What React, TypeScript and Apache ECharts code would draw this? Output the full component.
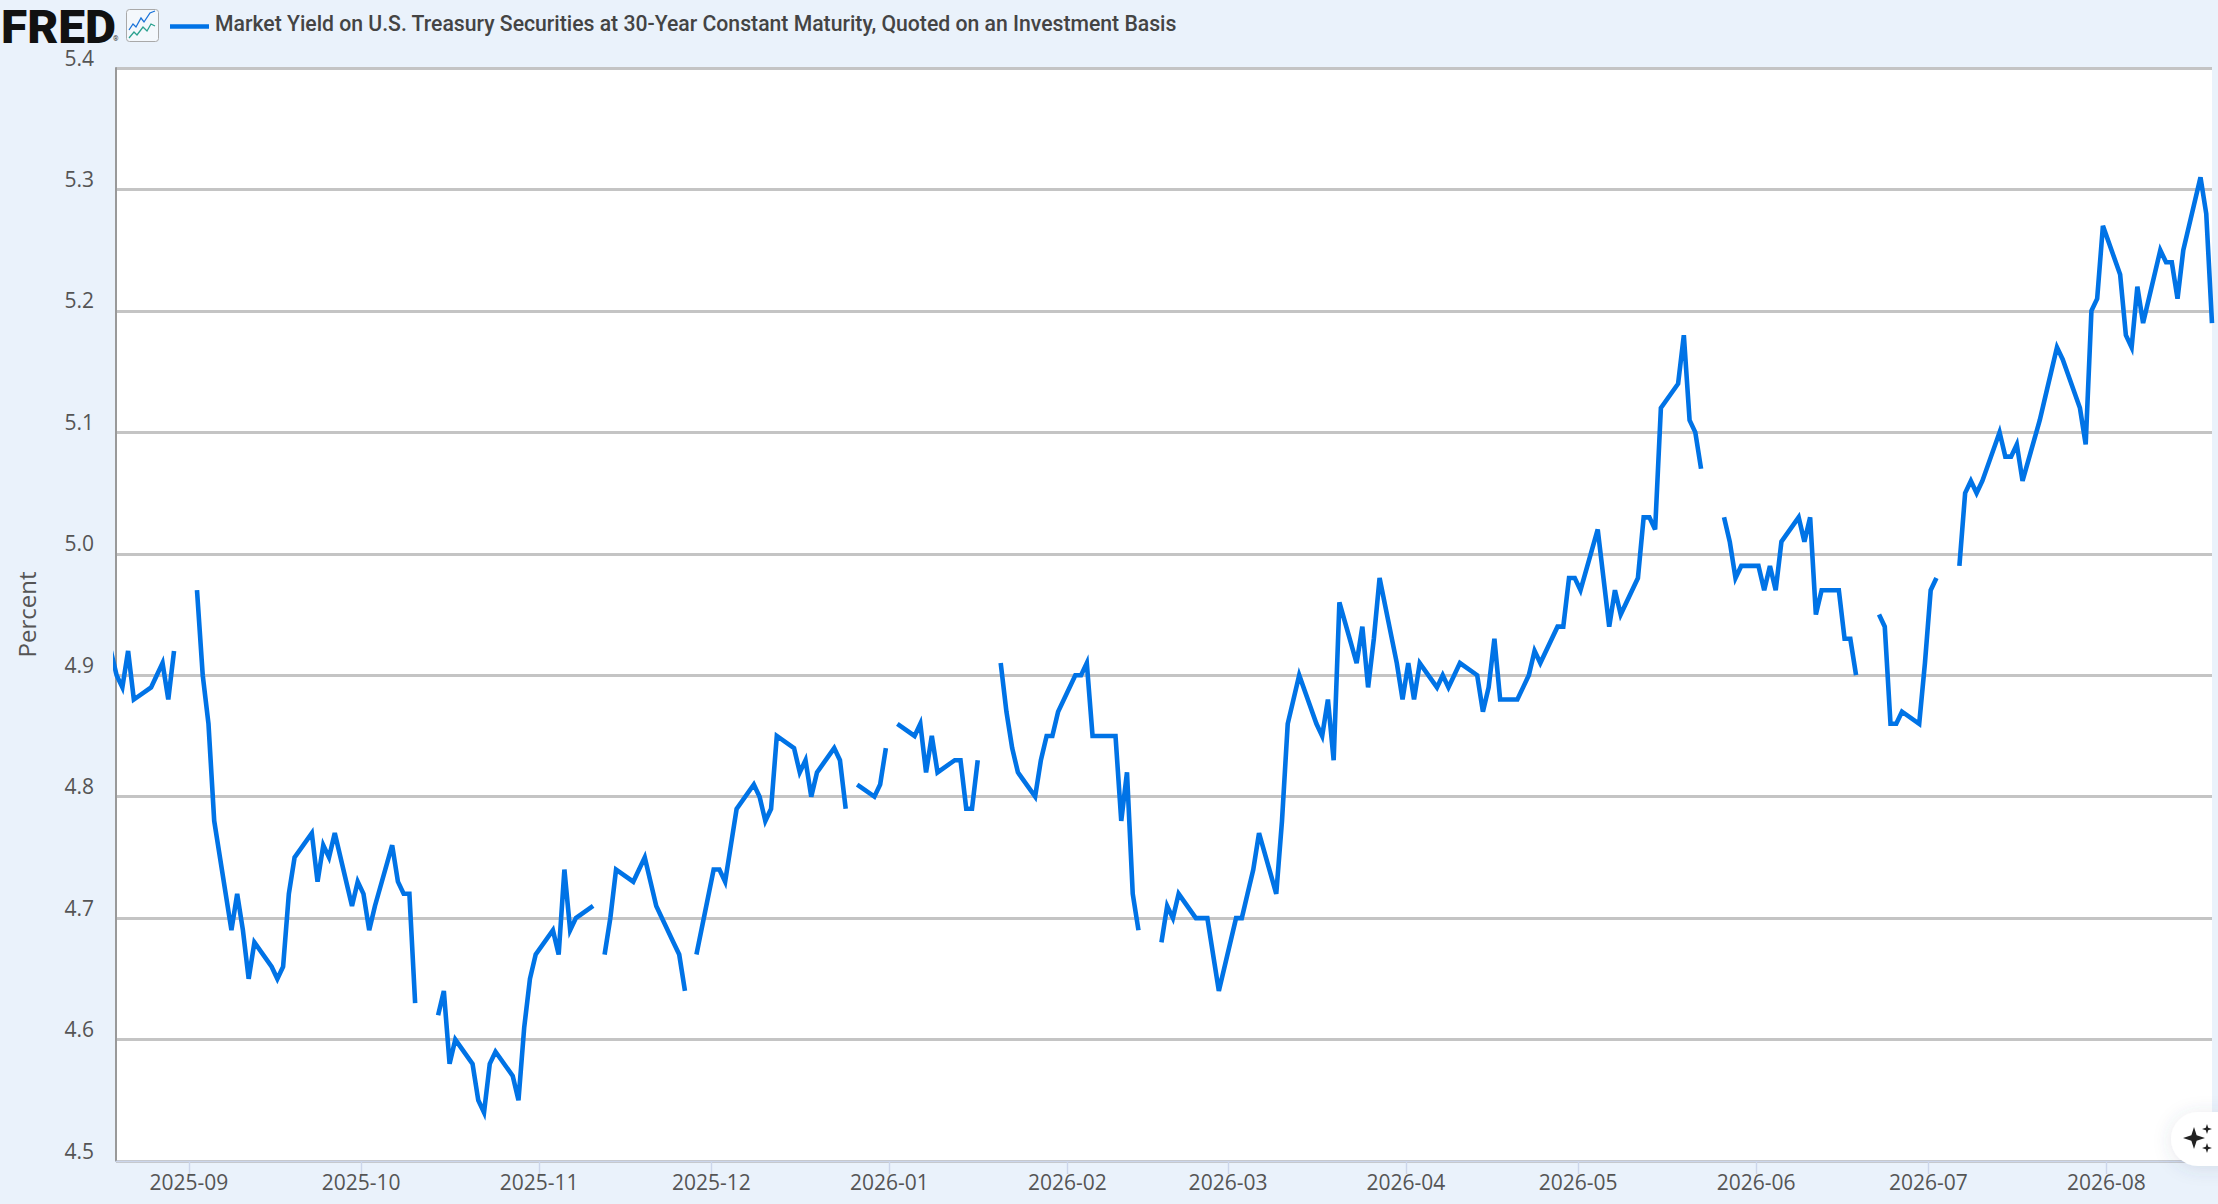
import React, { useEffect, useRef } from "react";
import * as echarts from "echarts";

const seriesTitle = "Market Yield on U.S. Treasury Securities at 30-Year Constant Maturity, Quoted on an Investment Basis";
const yAxisName = "Percent";
const firstWeekday = "2025-08-18";

// One line per week, Monday to Friday; null marks a market holiday (breaks the line).
const yields: (number | null)[] = [
  4.92, 4.90, 4.89, 4.92, 4.88,
  4.89, 4.90, 4.91, 4.88, 4.92,
  null, 4.97, 4.90, 4.86, 4.78,
  4.69, 4.72, 4.69, 4.65, 4.68,
  4.66, 4.65, 4.66, 4.72, 4.75,
  4.77, 4.73, 4.76, 4.75, 4.77,
  4.71, 4.73, 4.72, 4.69, 4.71,
  4.76, 4.73, 4.72, 4.72, 4.63,
  null, 4.62, 4.64, 4.58, 4.60,
  4.58, 4.55, 4.54, 4.58, 4.59,
  4.57, 4.55, 4.61, 4.65, 4.67,
  4.69, 4.67, 4.74, 4.69, 4.70,
  4.71, null, 4.67, 4.70, 4.74,
  4.73, 4.74, 4.75, 4.73, 4.71,
  4.68, 4.67, 4.64, null, 4.67,
  4.74, 4.74, 4.73, 4.76, 4.79,
  4.81, 4.80, 4.78, 4.79, 4.85,
  4.84, 4.82, 4.83, 4.80, 4.82,
  4.84, 4.83, 4.79, null, 4.81,
  4.80, 4.81, 4.84, null, 4.86,
  4.85, 4.86, 4.82, 4.85, 4.82,
  4.83, 4.83, 4.79, 4.79, 4.83,
  null, 4.91, 4.87, 4.84, 4.82,
  4.80, 4.83, 4.85, 4.85, 4.87,
  4.90, 4.90, 4.91, 4.85, 4.85,
  4.85, 4.78, 4.82, 4.72, 4.69,
  null, 4.68, 4.71, 4.70, 4.72,
  4.70, 4.70, 4.70, 4.67, 4.64,
  4.70, 4.70, 4.72, 4.74, 4.77,
  4.72, 4.78, 4.86, 4.88, 4.90,
  4.86, 4.85, 4.88, 4.83, 4.96,
  4.91, 4.94, 4.89, 4.93, 4.98,
  4.91, 4.88, 4.91, 4.88, 4.91,
  4.89, 4.90, 4.89, 4.90, 4.91,
  4.90, 4.87, 4.89, 4.93, 4.88,
  4.88, 4.89, 4.90, 4.92, 4.91,
  4.94, 4.94, 4.98, 4.98, 4.97,
  5.02, 4.98, 4.94, 4.97, 4.95,
  4.98, 5.03, 5.03, 5.02, 5.12,
  5.14, 5.18, 5.11, 5.10, 5.07,
  null, 5.03, 5.01, 4.98, 4.99,
  4.99, 4.97, 4.99, 4.97, 5.01,
  5.03, 5.01, 5.03, 4.95, 4.97,
  4.97, 4.93, 4.93, 4.90, null,
  4.95, 4.94, 4.86, 4.86, 4.87,
  4.86, 4.91, 4.97, 4.98, null,
  4.99, 5.05, 5.06, 5.05, 5.06,
  5.10, 5.08, 5.08, 5.09, 5.06,
  5.11, 5.13, 5.15, 5.17, 5.16,
  5.12, 5.09, 5.20, 5.21, 5.27,
  5.23, 5.18, 5.17, 5.22, 5.19,
  5.25, 5.24, 5.24, 5.21, 5.25,
  5.31, 5.28, 5.19,
];

const monthTicks = [
  "2025-09", "2025-10", "2025-11", "2025-12", "2026-01", "2026-02",
  "2026-03", "2026-04", "2026-05", "2026-06", "2026-07", "2026-08",
];

const xStart = "2025-08-19T07:00:00Z";
const xEnd = "2026-08-19T09:40:00Z";
const yMin = 4.5;
const yMax = 5.4;
const yStep = 0.1;

const PAGE = "#EAF2FB";
const BLUE = "#0073E6";
const TEXT = "#555555";
const GRID = "#C4C4C4";
const HOUR = 3600000;

function weekdayDates(start: string, count: number): number[] {
  const out: number[] = [];
  let t = Date.parse(start + "T00:00:00Z");
  while (out.length < count) {
    const day = new Date(t).getUTCDay();
    if (day !== 0 && day !== 6) out.push(t + 9.6 * HOUR);
    t += 24 * HOUR;
  }
  return out;
}

function monthValue(label: string): number {
  return Date.parse(label + "-01T00:00:00Z");
}

function monthLabel(value: number): string {
  const d = new Date(value);
  return d.getUTCFullYear() + "-" + String(d.getUTCMonth() + 1).padStart(2, "0");
}

function star(cx: number, cy: number, r: number): number[][] {
  const k = r * 0.24;
  return [
    [cx, cy - r], [cx + k, cy - k], [cx + r, cy], [cx + k, cy + k],
    [cx, cy + r], [cx - k, cy + k], [cx - r, cy], [cx - k, cy - k],
  ];
}

export default function App() {
  const ref = useRef<HTMLDivElement>(null);

  useEffect(() => {
    document.body.style.margin = "0";
    document.body.style.background = PAGE;
    const chart = echarts.init(ref.current!, undefined, { renderer: "svg" });
    const dates = weekdayDates(firstWeekday, yields.length);
    const points = yields.map((v, i) => [dates[i], v]);
    const tickValues = monthTicks.map(monthValue);

    chart.setOption({
      animation: false,
      backgroundColor: PAGE,
      grid: {
        show: true,
        left: 116,
        top: 68,
        right: 6,
        bottom: 43,
        outerBoundsMode: "none",
        containLabel: false,
        backgroundColor: "#FFFFFF",
        borderWidth: 0,
      },
      xAxis: {
        type: "value",
        min: Date.parse(xStart),
        max: Date.parse(xEnd),
        splitLine: { show: false },
        axisLine: { show: true, lineStyle: { color: "#CCD6EB", width: 1.4 } },
        axisTick: {
          show: true,
          customValues: tickValues,
          length: 13,
          lineStyle: { color: "#CCD6EB", width: 1.4 },
        },
        axisLabel: {
          customValues: tickValues,
          formatter: (v: number) => monthLabel(v),
          fontFamily: "Open Sans",
          fontSize: 21,
          color: TEXT,
          margin: 10.5,
          hideOverlap: false,
        },
      },
      yAxis: {
        type: "value",
        min: yMin,
        max: yMax,
        interval: yStep,
        name: yAxisName,
        nameLocation: "middle",
        nameGap: 78,
        nameTextStyle: { fontFamily: "Open Sans", fontSize: 24, color: TEXT },
        splitLine: { show: true, lineStyle: { color: GRID, width: 2.8 } },
        axisLine: { show: true, lineStyle: { color: "#999999", width: 2 } },
        axisTick: { show: false },
        axisLabel: {
          formatter: (v: number) => v.toFixed(1),
          fontFamily: "Open Sans",
          fontSize: 21,
          color: TEXT,
          margin: 22,
          verticalAlign: "bottom",
        },
      },
      series: [
        {
          type: "line",
          name: seriesTitle,
          data: points,
          showSymbol: false,
          connectNulls: false,
          smooth: false,
          clip: true,
          lineStyle: { color: BLUE, width: 4.6, join: "miter", cap: "butt", miterLimit: 4 },
          z: 5,
        },
      ],
      graphic: [
        {
          type: "text",
          x: 1,
          y: 4,
          scaleX: 1.04,
          style: {
            text: "FRED",
            fontFamily: "Roboto",
            fontWeight: 900,
            fontSize: 46,
            fill: "#111111",
          },
        },
        {
          type: "text",
          x: 113,
          y: 35,
          style: { text: "®", fontFamily: "Roboto", fontSize: 7, fill: "#333333" },
        },
        {
          type: "rect",
          shape: { x: 126.5, y: 9.5, width: 32, height: 32, r: 3 },
          style: { fill: "#F4F8FC", stroke: "#A9A9A9", lineWidth: 1 },
        },
        {
          type: "polyline",
          shape: { points: [[129, 30], [133, 24], [136, 27], [141, 18], [144, 22], [150, 13], [155, 11]] },
          style: { fill: "none", stroke: "#1A73D9", lineWidth: 1.3 },
        },
        {
          type: "polyline",
          shape: { points: [[129, 38], [134, 32], [137, 35], [143, 27], [147, 31], [151, 24], [155, 26]] },
          style: { fill: "none", stroke: "#2AA18F", lineWidth: 1.3 },
        },
        {
          type: "line",
          shape: { x1: 170, y1: 26.5, x2: 209, y2: 26.5 },
          style: { stroke: BLUE, lineWidth: 4.6 },
        },
        {
          type: "text",
          x: 215,
          y: 13,
          style: {
            text: seriesTitle,
            fontFamily: "Roboto",
            fontWeight: 500,
            fontSize: 21.2,
            fill: "#444444",
          },
        },
        {
          type: "rect",
          shape: { x: 2171, y: 1112, width: 80, height: 54, r: 27 },
          style: { fill: "#FFFFFF", shadowBlur: 18, shadowColor: "rgba(60,80,110,0.14)", shadowOffsetY: 2 },
          z: 20,
        },
        {
          type: "polygon",
          shape: { points: star(2194, 1138, 11) },
          style: { fill: "#222222" },
          z: 21,
        },
        {
          type: "polygon",
          shape: { points: star(2207, 1129, 5) },
          style: { fill: "#222222" },
          z: 21,
        },
        {
          type: "polygon",
          shape: { points: star(2207, 1148, 5) },
          style: { fill: "#222222" },
          z: 21,
        },
      ],
    });
    return () => chart.dispose();
  }, []);

  return (
    <div
      ref={ref}
      style={{ position: "absolute", left: 0, top: 0, width: 2218, height: 1204 }}
    />
  );
}
